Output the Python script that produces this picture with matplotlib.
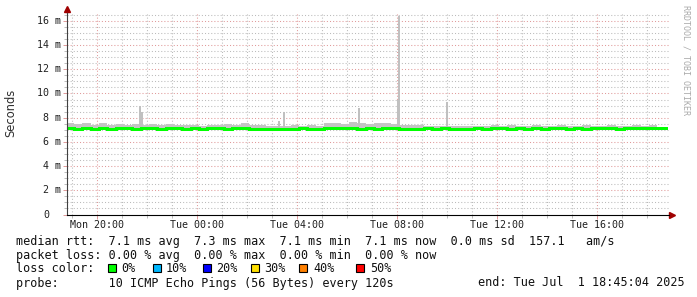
import matplotlib
matplotlib.use("Agg")
import matplotlib.pyplot as plt
import matplotlib.patches as patches
from matplotlib.transforms import blended_transform_factory
import numpy as np

# median rtt (ms), one value every 20 minutes from Mon 18:45 to Tue 18:45
median_rtt = [7.13, 7.10, 7.12, 7.09, 7.12, 7.10, 7.13, 7.11, 7.10, 7.12,
              7.11, 7.10, 7.13, 7.11, 7.10, 7.11, 7.09, 7.11, 7.13, 7.10,
              7.11, 7.12, 7.10, 7.09, 7.10, 7.08, 7.09, 7.10, 7.11, 7.10,
              7.09, 7.14, 7.17, 7.12, 7.18, 7.10, 7.13, 7.10, 7.15, 7.11,
              7.10, 7.09, 7.10, 7.11, 7.10, 7.11, 7.10, 7.09, 7.10, 7.11,
              7.10, 7.12, 7.11, 7.10, 7.11, 7.10, 7.12, 7.10, 7.11, 7.13,
              7.10, 7.11, 7.10, 7.12, 7.11, 7.13, 7.10, 7.11, 7.12, 7.11,
              7.13, 7.11, 7.10]
# top of the smoke (ms)
smoke_top = [7.55, 7.45, 7.58, 7.40, 7.52, 7.38, 7.48, 7.42, 7.50, 7.36,
             7.45, 7.38, 7.48, 7.36, 7.42, 7.38, 7.32, 7.36, 7.42, 7.48,
             7.36, 7.52, 7.42, 7.36, 7.32, 7.28, 7.32, 7.38, 7.32, 7.36,
             7.32, 7.58, 7.52, 7.48, 7.62, 7.52, 7.48, 7.52, 7.58, 7.48,
             7.42, 7.38, 7.36, 7.30, 7.30, 7.34, 7.30, 7.34, 7.30, 7.34,
             7.30, 7.38, 7.34, 7.38, 7.34, 7.30, 7.38, 7.34, 7.34, 7.38,
             7.30, 7.34, 7.38, 7.34, 7.34, 7.38, 7.30, 7.34, 7.38, 7.34,
             7.38, 7.42, 7.34]
# single outlier spikes: hour (since Mon 00:00) and top (ms)
spike_hours = [21.72, 21.80, 27.28, 27.48, 30.48, 32.04, 32.10, 34.00]
spike_tops = [9.0, 8.5, 7.7, 8.5, 8.8, 9.5, 16.4, 9.3]

tick_hours = [20, 24, 28, 32, 36, 40]
tick_labels = ["Mon 20:00", "Tue 00:00", "Tue 04:00", "Tue 08:00", "Tue 12:00", "Tue 16:00"]
y_values = [0, 2, 4, 6, 8, 10, 12, 14, 16]
y_labels = ["0", "2 m", "4 m", "6 m", "8 m", "10 m", "12 m", "14 m", "16 m"]

loss_labels = ["0%", "10%", "20%", "30%", "40%", "50%"]
loss_colors = ["#00ff00", "#00b8ff", "#0000ff", "#ffe000", "#ff8000", "#ff0000"]

line1 = "median rtt:  7.1 ms avg  7.3 ms max  7.1 ms min  7.1 ms now  0.0 ms sd  157.1   am/s"
line2 = "packet loss: 0.00 % avg  0.00 % max  0.00 % min  0.00 % now"
line3 = "loss color:"
line4 = "probe:       10 ICMP Echo Pings (56 Bytes) every 120s"
end_text = "end: Tue Jul  1 18:45:04 2025"

W, H = 697, 297
fig = plt.figure(figsize=(W / 100, H / 100), dpi=100)
fig.patch.set_facecolor("white")

left, right, bottom, top = 67, 669, 214.5, 13
ax = fig.add_axes([left / W, 1 - bottom / H, (right - left) / W, (bottom - top) / H])
ax.set_facecolor("white")

times = 18.75 + np.arange(len(median_rtt)) / 3.0
ax.set_xlim(18.8, 42.88)
ax.set_ylim(0, 16.65)

# grid
dot = (0, (1, 2))
for h in range(19, 43):
    major = h % 4 == 0
    ax.axvline(h, color="#e09a9a" if major else "#bbbbbb", lw=0.75, ls=dot, zorder=1)
for v in np.arange(0.5, 16.6, 0.5):
    major = v % 2 == 0
    ax.axhline(v, color="#e09a9a" if major else "#bbbbbb", lw=0.75, ls=dot, zorder=1)

# smoke
ax.fill_between(times[:-1], np.array(median_rtt[:-1]) - 0.1, smoke_top[:-1], step="post",
                color="#c4c4c4", lw=0, zorder=2)
ax.bar(spike_hours, np.array(spike_tops) - 7.1, bottom=7.1, width=0.08,
       color="#c0c0c0", lw=0, zorder=2)
# median
ax.step(times, median_rtt, where="post", color="#00ff00", lw=2.0, zorder=3,
        solid_joinstyle="miter", solid_capstyle="butt", antialiased=False)

# axes
for s in ["top", "right"]:
    ax.spines[s].set_visible(False)
ax.spines["left"].set_color("#404040")
ax.spines["bottom"].set_color("black")
ax.spines["left"].set_zorder(5)
ax.spines["bottom"].set_zorder(5)
ax.plot([0, 0], [1, 1.02], transform=ax.transAxes, color="#404040", lw=0.8, clip_on=False)
ax.plot([1, 1.005], [0, 0], transform=ax.transAxes, color="black", lw=0.8, clip_on=False)
ax.plot([0], [1.02], marker="^", ms=4, color="#a00000", transform=ax.transAxes, clip_on=False)
ax.plot([1.005], [0], marker=">", ms=4, color="#a00000", transform=ax.transAxes, clip_on=False)

ax.set_xticks(tick_hours)
ax.set_xticks(range(19, 43), minor=True)
ax.set_yticks(y_values)
ax.set_yticks(np.arange(0, 16.6, 0.5), minor=True)
ax.set_xticklabels([])
ax.set_yticklabels([])
ax.tick_params(axis="both", which="major", length=3, color="#e09a9a", width=0.7)
ax.tick_params(axis="both", which="minor", length=2, color="#bbbbbb", width=0.7)

mono = "DejaVu Sans Mono"
tx = blended_transform_factory(ax.transData, fig.transFigure)
for h, lab in zip(tick_hours, tick_labels):
    fig.text(h, 1 - 225 / H, lab, transform=tx, ha="center", va="center",
             family=mono, fontsize=7.2, color="#202020")
ty = blended_transform_factory(fig.transFigure, ax.transData)
for v, lab in zip(y_values, y_labels):
    x0 = 37 if len(lab) == 4 else 43
    fig.text(x0 / W, v, lab, transform=ty, ha="left", va="center",
             family=mono, fontsize=7.2, color="#202020")

fig.text(11 / W, 1 - 113 / H, "Seconds", rotation=90, ha="center", va="center",
         family="DejaVu Sans", fontsize=8.3, color="#303030")
fig.text(686 / W, 1 - 5 / H, "RRDTOOL / TOBI OETIKER", rotation=270, ha="center", va="top",
         family=mono, fontsize=6, color="#aaaaaa")

# legend
fs = 8.5
for y, txt in [(241, line1), (255, line2), (269, line3), (283, line4)]:
    fig.text(16 / W, 1 - y / H, txt, ha="left", va="center", family=mono, fontsize=fs, color="#101010")
fig.text(478 / W, 1 - 283 / H, end_text, ha="left", va="center", family=mono, fontsize=fs, color="#101010")

box_x = [108, 153, 203, 251, 299, 356]
lab_x = [121, 166, 216, 264, 313, 370]
for bx, lx, lab, col in zip(box_x, lab_x, loss_labels, loss_colors):
    fig.patches.append(patches.Rectangle((bx / W, 1 - 272 / H), 8 / W, 8 / H,
                                         transform=fig.transFigure, facecolor=col,
                                         edgecolor="black", lw=0.8))
    fig.text(lx / W, 1 - 269 / H, lab, ha="left", va="center", family=mono, fontsize=fs, color="#101010")

fig.savefig("out.png", dpi=100)
